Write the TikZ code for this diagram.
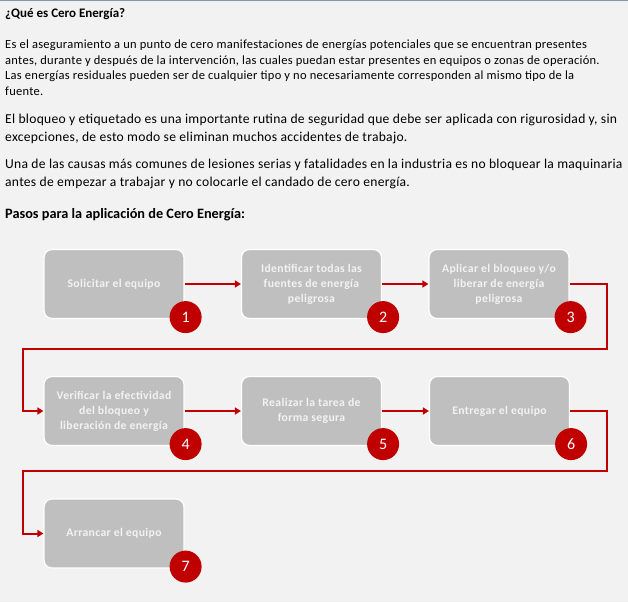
\documentclass[tikz,border=0pt]{standalone}
\usepackage{fontspec}
\setmainfont{Carlito}
\usepackage{tikz}
\usetikzlibrary{arrows.meta}
\usetikzlibrary{positioning}
\definecolor{pagebg}{HTML}{F2F2F2}
\definecolor{boxgray}{HTML}{BFBFBF}
\definecolor{darkred}{HTML}{C00000}
\definecolor{rulebar}{HTML}{8497B0}
\tikzset{stepbox/.style = {draw = white, line width = 1.2, fill = boxgray, rounded corners = 8,
    minimum width = 140, minimum height = 69, align = center, text = pagebg,
    font = \fontsize{11.7}{15}\selectfont\bfseries\addfontfeature{LetterSpace = 3}},
  badge/.style = {fill = darkred, circle, inner sep = 0, minimum size = 32, text = white,
    font = \fontsize{16}{16}\selectfont},
  flow/.style = {draw = darkred, line width = 2, -{Triangle[length = 6, width = 7]}},
  para/.style = {anchor = north west, align = left, inner sep = 0}}

\begin{document}
\begin{tikzpicture}[x = 1pt, y = -1pt]
    \fill [pagebg] (0, 0) rectangle (628, 602);
    \useasboundingbox (0, 0) rectangle (628, 602);
    \draw [rulebar, line width = 1.5] (0, 0.5) -- (628, 0.5);

    % text above the chart
    \node [anchor = base west, inner sep = 0, font = \fontsize{13}{16}\selectfont\bfseries] (title) at (5, 18) {¿Qué es Cero Energía?};
    \node [para, font = \fontsize{12.5}{15.4}\selectfont\addfontfeature{LetterSpace = 2.2}] (p1) at (5, 40) {Es el aseguramiento a un punto de cero manifestaciones de energías potenciales que se encuentran presentes\\
      antes, durante y después de la intervención, las cuales puedan estar presentes en equipos o zonas de operación.\\
      Las energías residuales pueden ser de cualquier tipo y no necesariamente corresponden al mismo tipo de la\\
      fuente.};
    \node [para, font = \fontsize{13.6}{17.5}\selectfont\addfontfeature{LetterSpace = 2}] (p2) at (5, 114) {El bloqueo y etiquetado es una importante rutina de seguridad que debe ser aplicada con rigurosidad y, sin\\
      excepciones, de esto modo se eliminan muchos accidentes de trabajo.};
    \node [para, font = \fontsize{13.6}{18}\selectfont\addfontfeature{LetterSpace = 2}] (p3) at (5, 159) {Una de las causas más comunes de lesiones serias y fatalidades en la industria es no bloquear la maquinaria\\
      antes de empezar a trabajar y no colocarle el candado de cero energía.};
    \node [anchor = base west, inner sep = 0, font = \fontsize{14.3}{17}\selectfont\bfseries] (steps) at (5, 218) {Pasos para la aplicación de Cero Energía:};

    % the seven steps
    \node [stepbox] (s1) at (114, 284) {Solicitar el equipo};
    \node [stepbox] (s2) at (311.5, 284) {Identificar todas las\\ fuentes de energía\\ peligrosa};
    \node [stepbox] (s3) at (499, 284) {Aplicar el bloqueo y/o\\ liberar de energía\\ peligrosa};
    \node [stepbox] (s4) at (114, 411) {Verificar la efectividad\\ del bloqueo y\\ liberación de energía};
    \node [stepbox] (s5) at (311.5, 411) {Realizar la tarea de\\ forma segura};
    \node [stepbox] (s6) at (499.5, 411) {Entregar el equipo};
    \node [stepbox] (s7) at (114, 533.5) {Arrancar el equipo};

    \coordinate (r1) at (607, 349);
    \coordinate (l1) at (23, 349);
    \coordinate (r2) at (607, 471);
    \coordinate (l2) at (23, 471);

    \draw [flow] (s1) -- (s2);
    \draw [flow] (s2) -- (s3);
    \draw [flow] (s3.east) -| (r1) -- (l1) |- (s4.west);
    \draw [flow] (s4) -- (s5);
    \draw [flow] (s5) -- (s6);
    \draw [flow] (s6.east) -| (r2) -- (l2) |- (s7.west);

    \node [badge] (n1) at ([shift = {(1, -2)}] s1.south east) {1};
    \node [badge] (n2) at ([shift = {(1, -2)}] s2.south east) {2};
    \node [badge] (n3) at ([shift = {(1, -2)}] s3.south east) {3};
    \node [badge] (n4) at ([shift = {(1, -2)}] s4.south east) {4};
    \node [badge] (n5) at ([shift = {(1, -2)}] s5.south east) {5};
    \node [badge] (n6) at ([shift = {(1, -2)}] s6.south east) {6};
    \node [badge] (n7) at ([shift = {(1, -2)}] s7.south east) {7};
  \end{tikzpicture}
\end{document}
